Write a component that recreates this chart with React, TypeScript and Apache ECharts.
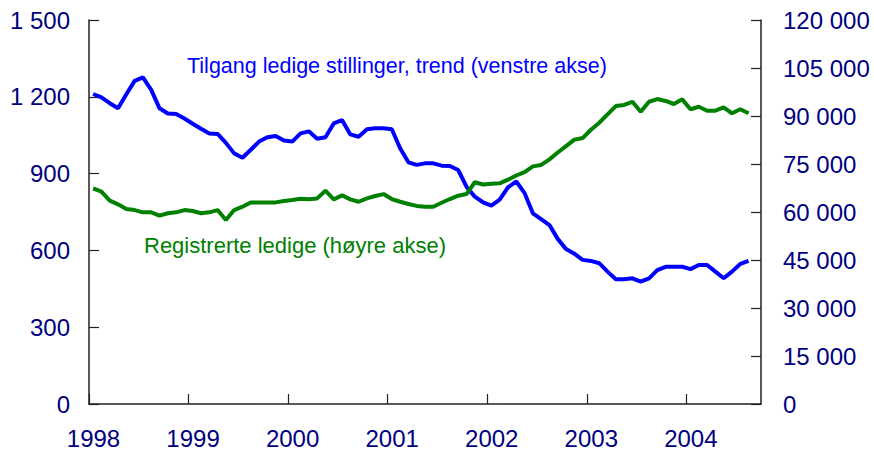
import React, { useEffect, useRef } from "react";
import * as echarts from "echarts";

const startYear = 1998;
const axisMonths = 81;
const yearTicks = [1998, 1999, 2000, 2001, 2002, 2003, 2004];

// Tilgang ledige stillinger, trend (venstre akse) – monthly from Jan 1998
const vacancies = [
  1211, 1198, 1175, 1155, 1210, 1262, 1276, 1227, 1155, 1135, 1133, 1115,
  1095, 1075, 1057, 1055, 1020, 979, 962, 993, 1025, 1042, 1047, 1029,
  1025, 1057, 1065, 1036, 1042, 1096, 1109, 1053, 1044, 1073, 1077, 1077,
  1073, 999, 944, 934, 940, 940, 931, 930, 914, 849, 810, 788,
  775, 798, 846, 870, 824, 745, 722, 699, 645, 605, 587, 563,
  559, 550, 517, 487, 487, 491, 478, 491, 523, 536, 536, 536,
  527, 543, 543, 517, 491, 517, 547, 559,
];

// Registrerte ledige (høyre akse) – monthly from Jan 1998
const unemployed = [
  67400, 66350, 63550, 62400, 60950, 60600, 59900, 59900, 58850, 59600, 59900, 60600,
  60300, 59600, 59900, 60600, 57500, 60600, 61650, 63000, 63000, 63000, 63000, 63450,
  63750, 64150, 63950, 64250, 66650, 63950, 65200, 63950, 63200, 64250, 65000, 65600,
  64050, 63200, 62500, 61900, 61650, 61650, 62900, 64050, 65100, 65600, 69300, 68600,
  68850, 68950, 70100, 71400, 72450, 74250, 74700, 76450, 78600, 80600, 82600, 83100,
  85700, 87900, 90500, 93100, 93450, 94450, 91350, 94450, 95300, 94700, 93750, 95200,
  92100, 92900, 91650, 91650, 92700, 90850, 92100, 90850,
];

const labelBlue = "Tilgang ledige stillinger, trend (venstre akse)";
const labelGreen = "Registrerte ledige (høyre akse)";

const fmt = (v: number) =>
  String(Math.round(v)).replace(/\B(?=(\d{3})+(?!\d))/g, " ");

const toXY = (arr: number[]) =>
  arr.map((v, m) => [startYear + (m + 0.5) / 12, v]);

export default function App() {
  const ref = useRef<HTMLDivElement>(null);
  useEffect(() => {
    if (!ref.current) return;
    const chart = echarts.init(ref.current, null, { renderer: "svg" });
    const font = "'Liberation Sans', Arial, sans-serif";
    const axisColor = "#000080";
    const lineAxis = { show: true, lineStyle: { color: "#222", width: 1.5 } };
    const tick = { show: true, inside: true, length: 10, lineStyle: { color: "#222", width: 1.2 } };
    chart.setOption({
      animation: false,
      backgroundColor: "#fff",
      grid: { left: 89, right: 113, top: 20, bottom: 50, containLabel: false },
      xAxis: {
        type: "value",
        min: startYear,
        max: startYear + axisMonths / 12,
        interval: 1,
        axisLine: lineAxis,
        axisTick: tick,
        splitLine: { show: false },
        axisLabel: {
          color: axisColor,
          fontFamily: font,
          fontSize: 24,
          margin: 22,
          padding: [0, 0, 0, 9],
          showMaxLabel: false,
          formatter: (v: number) =>
            yearTicks.includes(Math.round(v * 1000) / 1000) ? String(v) : "",
        },
      },
      yAxis: [
        {
          type: "value",
          min: 0,
          max: 1500,
          interval: 300,
          position: "left",
          axisLine: lineAxis,
          axisTick: tick,
          splitLine: { show: false },
          axisLabel: { color: axisColor, fontFamily: font, fontSize: 24, margin: 19, formatter: fmt },
        },
        {
          type: "value",
          min: 0,
          max: 120000,
          interval: 15000,
          position: "right",
          axisLine: lineAxis,
          axisTick: tick,
          splitLine: { show: false },
          axisLabel: { color: axisColor, fontFamily: font, fontSize: 24, margin: 22, formatter: fmt },
        },
      ],
      series: [
        {
          name: labelBlue,
          type: "line",
          yAxisIndex: 0,
          data: toXY(vacancies),
          showSymbol: false,
          lineStyle: { color: "#0000ff", width: 4 },
          itemStyle: { color: "#0000ff" },
        },
        {
          name: labelGreen,
          type: "line",
          yAxisIndex: 1,
          data: toXY(unemployed),
          showSymbol: false,
          lineStyle: { color: "#008000", width: 4 },
          itemStyle: { color: "#008000" },
        },
      ],
      graphic: [
        {
          type: "text",
          left: 187,
          top: 55,
          style: { text: labelBlue, fill: "#0000ff", font: `21.5px ${font}` },
        },
        {
          type: "text",
          left: 144,
          top: 234,
          style: { text: labelGreen, fill: "#008000", font: `22px ${font}` },
        },
      ],
    });
    return () => chart.dispose();
  }, []);
  return (
    <div
      ref={ref}
      style={{ position: "fixed", left: 0, top: 0, width: 874, height: 454 }}
    />
  );
}
